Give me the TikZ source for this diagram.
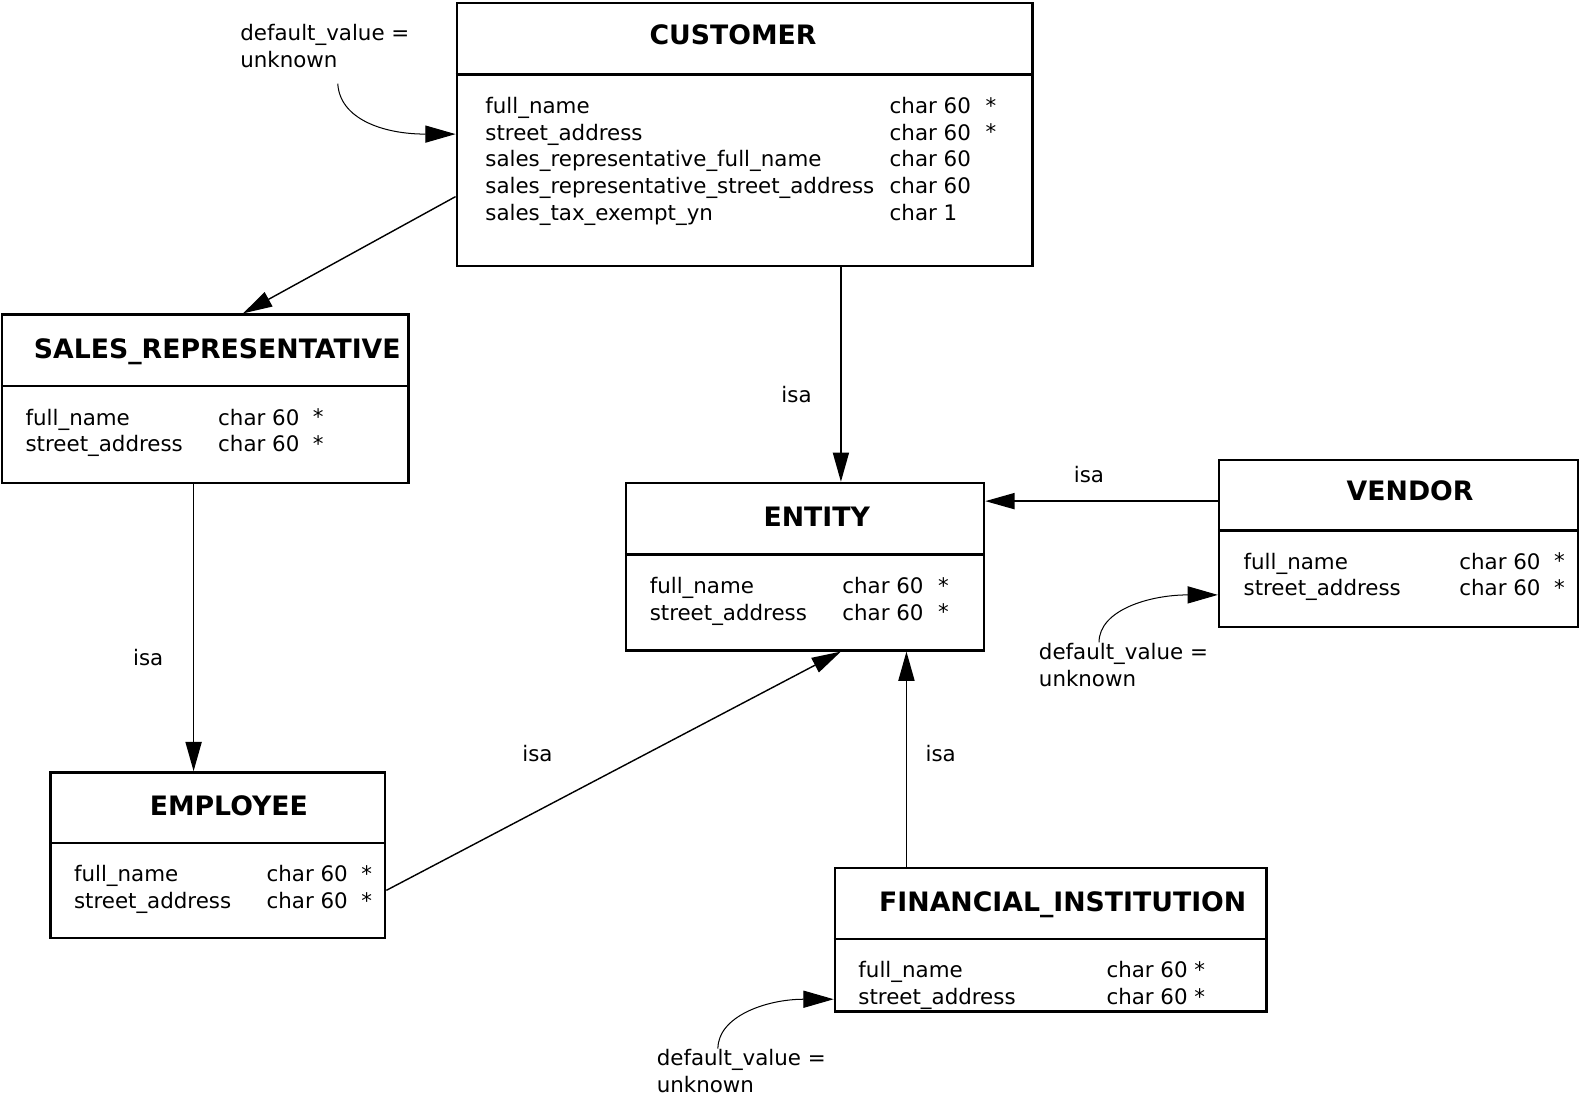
\documentclass[tikz,border=0pt]{standalone}
\usepackage{fontspec}
\setmainfont{DejaVu Sans}
\usetikzlibrary{positioning,calc,fit,arrows.meta}

\begin{document}
\begin{tikzpicture}[
	x=0.5pt, y=-0.5pt,
	every node/.style={font=\fontsize{10.6pt}{13.25pt}\selectfont, inner sep=0pt},
	ent_box/.style={draw, line width=1.2pt, inner sep=0pt},
	ent_rule/.style={line width=1.2pt},
	ent_title/.style={anchor=base, font=\fontsize{13.25pt}{16pt}\selectfont\bfseries},
	ent_fields/.style={anchor=north west, align=left},
	isa_link/.style={-{Triangle[length=14.5pt, width=8pt]}, line width=0.7pt},
	note_link/.style={-{Triangle[length=15pt, width=8.5pt]}, line width=0.5pt},
	note_text/.style={anchor=north west, align=left}
	]
	\useasboundingbox (0,0) rectangle (1568,1087);
	
	% --- entities ---
	\node[ent_box, fit={(453,3) (1024,264)}] (customer) {};
	\draw[ent_rule] (customer.west |- 0,74) -- (customer.east |- 0,74);
	\node[ent_title] (customer_title) at (727,44.5) {CUSTOMER};
	\node[ent_fields] (customer_names) at (481,96) {full\_name\\street\_address\\sales\_representative\_full\_name\\sales\_representative\_street\_address\\sales\_tax\_exempt\_yn};
	\node[ent_fields] (customer_types) at (882,96) {char 60\\char 60\\char 60\\char 60\\char 1};
	\node[ent_fields] (customer_keys) at (977,96) {*\\*};
	
	\node[ent_box, fit={(2,312) (405,479)}] (salesrep) {};
	\draw[ent_rule] (salesrep.west |- 0,383) -- (salesrep.east |- 0,383);
	\node[ent_title] (salesrep_title) at (215.5,355.5) {SALES\_REPRESENTATIVE};
	\node[ent_fields] (salesrep_names) at (25,405) {full\_name\\street\_address};
	\node[ent_fields] (salesrep_types) at (216,405) {char 60\\char 60};
	\node[ent_fields] (salesrep_keys) at (310,405) {*\\*};
	
	\node[ent_box, fit={(621,479) (976,645)}] (entity) {};
	\draw[ent_rule] (entity.west |- 0,550) -- (entity.east |- 0,550);
	\node[ent_title] (entity_title) at (810,522.5) {ENTITY};
	\node[ent_fields] (entity_names) at (644,572) {full\_name\\street\_address};
	\node[ent_fields] (entity_types) at (835,572) {char 60\\char 60};
	\node[ent_fields] (entity_keys) at (930,572) {*\\*};
	
	\node[ent_box, fit={(1209,456) (1565,622)}] (vendor) {};
	\draw[ent_rule] (vendor.west |- 0,526) -- (vendor.east |- 0,526);
	\node[ent_title] (vendor_title) at (1398.5,496.5) {VENDOR};
	\node[ent_fields] (vendor_names) at (1233,548) {full\_name\\street\_address};
	\node[ent_fields] (vendor_types) at (1447,548) {char 60\\char 60};
	\node[ent_fields] (vendor_keys) at (1541,548) {*\\*};
	
	\node[ent_box, fit={(50,766) (382,930)}] (employee) {};
	\draw[ent_rule] (employee.west |- 0,836) -- (employee.east |- 0,836);
	\node[ent_title] (employee_title) at (227,808.5) {EMPLOYEE};
	\node[ent_fields] (employee_names) at (73,858) {full\_name\\street\_address};
	\node[ent_fields] (employee_types) at (264,858) {char 60\\char 60};
	\node[ent_fields] (employee_keys) at (358,858) {*\\*};
	
	\node[ent_box, fit={(828,861) (1256,1003)}] (fininst) {};
	\draw[ent_rule] (fininst.west |- 0,931) -- (fininst.east |- 0,931);
	\node[ent_title] (fininst_title) at (1054,903.5) {FINANCIAL\_INSTITUTION};
	\node[ent_fields] (fininst_names) at (851,953) {full\_name\\street\_address};
	\node[ent_fields] (fininst_types) at (1097,953) {char 60 *\\char 60 *};
	
	% --- isa links ---
	\draw[isa_link] (customer.west |- 0,195) -- (salesrep.north -| 241,0);
	\draw[isa_link] (customer.south -| 834,0) -- (entity.north -| 834,0);
	\draw[isa_link] (vendor.west |- 0,497) -- (entity.east |- 0,497);
	\draw[isa_link] (salesrep.south -| 192,0) -- (employee.north -| 192,0);
	\draw[isa_link] (employee.east |- 0,883) -- (entity.south -| 834,0);
	\draw[isa_link] (fininst.north -| 899,0) -- (entity.south -| 899,0);
	
	\node (isa_cust) at (790,391) {isa};
	\node (isa_vend) at (1080,471) {isa};
	\node (isa_sales) at (147,652) {isa};
	\node (isa_empl) at (533,747) {isa};
	\node (isa_fin) at (933,747) {isa};
	
	% --- default value notes ---
	\node[note_text] (note_cust) at (238,24) {default\_value =\\unknown};
	\node[note_text] (note_vend) at (1030,638) {default\_value =\\unknown};
	\node[note_text] (note_fin) at (651,1040) {default\_value =\\unknown};
	
	\coordinate (note_cust_end) at (335,83);
	\coordinate (note_vend_end) at (1090,637);
	\coordinate (note_fin_end) at (712,1040);
	
	\draw[note_link] (note_cust_end) .. controls (337,118) and (380,133) .. (customer.west |- 0,133);
	\draw[note_link] (note_vend_end) .. controls (1090,605) and (1140,590) .. (vendor.west |- 0,590);
	\draw[note_link] (note_fin_end) .. controls (712,1008) and (760,991) .. (fininst.west |- 0,991);
	
\end{tikzpicture}
\end{document}
